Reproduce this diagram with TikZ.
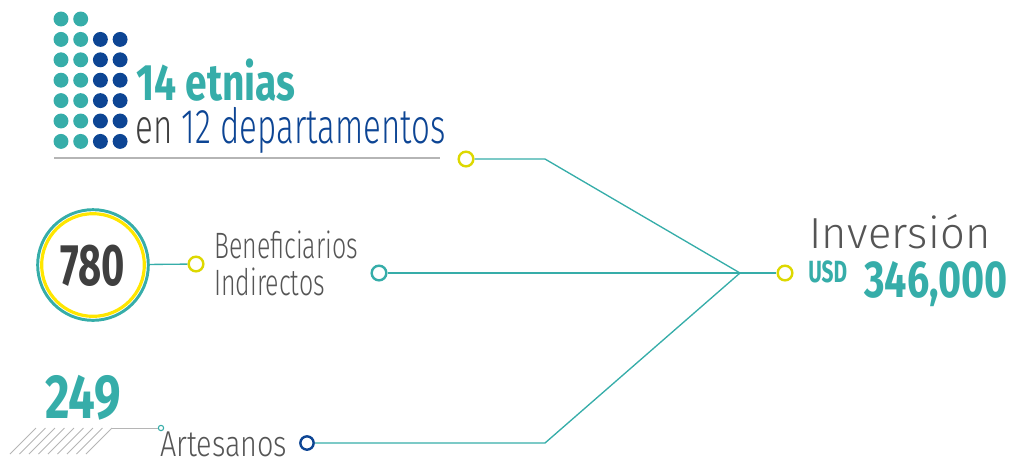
\documentclass[tikz,border=0pt]{standalone}
\usepackage{fontspec}
\newfontfamily\boldcond{Fira Sans}[FakeStretch=0.68]
\newfontfamily\boldmid{Fira Sans}[FakeStretch=0.76]
\newfontfamily\lightcond{Fira Sans Light}[FakeStretch=0.68]
\newfontfamily\lightmid{Fira Sans Light}[FakeStretch=0.8]
\newfontfamily\lightwide{Fira Sans Light}[LetterSpace=1]
\definecolor{dotteal}{HTML}{36ADA9}
\definecolor{dotblue}{HTML}{0D4594}
\definecolor{ringyellow}{HTML}{FFE600}
\definecolor{pinyellow}{HTML}{DDD800}
\definecolor{numgray}{HTML}{3F3F3F}
\definecolor{txtgray}{HTML}{555555}
\definecolor{rulegray}{HTML}{B5B5B5}

\begin{document}
\begin{tikzpicture}[x=0.75pt,y=-0.75pt]
\tikzstyle{dot}=[circle, inner sep=0pt, minimum size=11.2pt]
\tikzstyle{pin}=[circle, draw, fill=white, line width=1.8pt, inner sep=0pt, minimum size=11pt]
\tikzstyle{link}=[draw=dotteal, line width=1pt]
\tikzstyle{hatch}=[draw=rulegray, line width=0.7pt]
\tikzstyle{label}=[anchor=base west, inner sep=0pt]
\useasboundingbox (0,0) rectangle (1013,462);

% dot columns
\foreach \r in {0,...,6}
  \foreach \c in {0,1}
    \node[dot, fill=dotteal] (d\c\r) at (61+19.7*\c, 19+20.4*\r) {};
\foreach \r in {1,...,6}
  \foreach \c in {2,3}
    \node[dot, fill=dotblue] (d\c\r) at (61+19.7*\c, 19+20.4*\r) {};

\node[label, text=dotteal, font=\boldmid\bfseries\fontsize{38.5}{38.5}\selectfont] (etnias) at (136,100) {14 etnias};
\node[label, text=dotblue, font=\lightcond\fontsize{36.5}{36.5}\selectfont] (deptos) at (135,143) {\textcolor{numgray}{en} 12 departamentos};
\coordinate (r1) at (54,158);
\coordinate (r2) at (440,158);
\draw[rulegray, line width=0.9pt] (r1) -- (r2);

% 780
\node[circle, draw=dotteal, line width=2.2pt, minimum size=83pt] (ring) at (93,265) {};
\node[circle, draw=ringyellow, line width=2.4pt, minimum size=77pt] (ringin) at (93,265) {};
\node[text=numgray, font=\boldcond\bfseries\fontsize{44}{44}\selectfont] (n780) at (93,266) {780};
\node[pin, draw=pinyellow] (p780) at (196,264) {};
\draw[link] (ring) -- (p780);
\node[label, text=txtgray, font=\lightcond\fontsize{27.5}{27.5}\selectfont] (benef) at (214,258) {Beneficiarios};
\node[label, text=txtgray, font=\lightcond\fontsize{27.5}{27.5}\selectfont] (indir) at (214,295) {Indirectos};

% 249
\node[label, text=dotteal, font=\boldmid\bfseries\fontsize{46.8}{46.8}\selectfont] (n249) at (45,418) {249};
\foreach \i in {0,...,8}
  \draw[hatch] (10+9.5*\i,454) -- ++(26,-26);
\coordinate (h1) at (112,428);
\node[circle, draw=dotteal, fill=white, line width=0.8pt, inner sep=0pt, minimum size=4pt] (tip) at (161,428) {};
\draw[hatch] (h1) -- (tip);
\node[label, text=txtgray, font=\lightmid\fontsize{27}{27}\selectfont] (artes) at (160,456) {Artesanos};

% pins and links
\node[pin, draw=pinyellow] (ptop) at (466,159) {};
\node[pin, draw=dotteal] (pmid) at (379,273) {};
\node[pin, draw=dotblue, minimum size=10pt] (pbot) at (307,443) {};
\node[pin, draw=pinyellow] (pinv) at (785,273) {};
\coordinate (k1) at (545,159);
\coordinate (k3) at (545,443);
\coordinate (hub) at (740,273);
\draw[link] (ptop) -- (k1) -- (hub);
\draw[link] (pmid) -- (hub) -- (pinv);
\draw[link] (pbot) -- (k3) -- (hub);

% inversion
\node[label, text=txtgray, font=\lightwide\fontsize{32.6}{32.6}\selectfont] (inv) at (809,248) {Inversión};
\node[label, text=dotteal, font=\boldcond\bfseries\fontsize{23}{23}\selectfont] (usd) at (808,282) {USD};
\node[label, text=dotteal, font=\boldmid\bfseries\fontsize{39}{39}\selectfont] (monto) at (864,297) {346,000};
\end{tikzpicture}
\end{document}
